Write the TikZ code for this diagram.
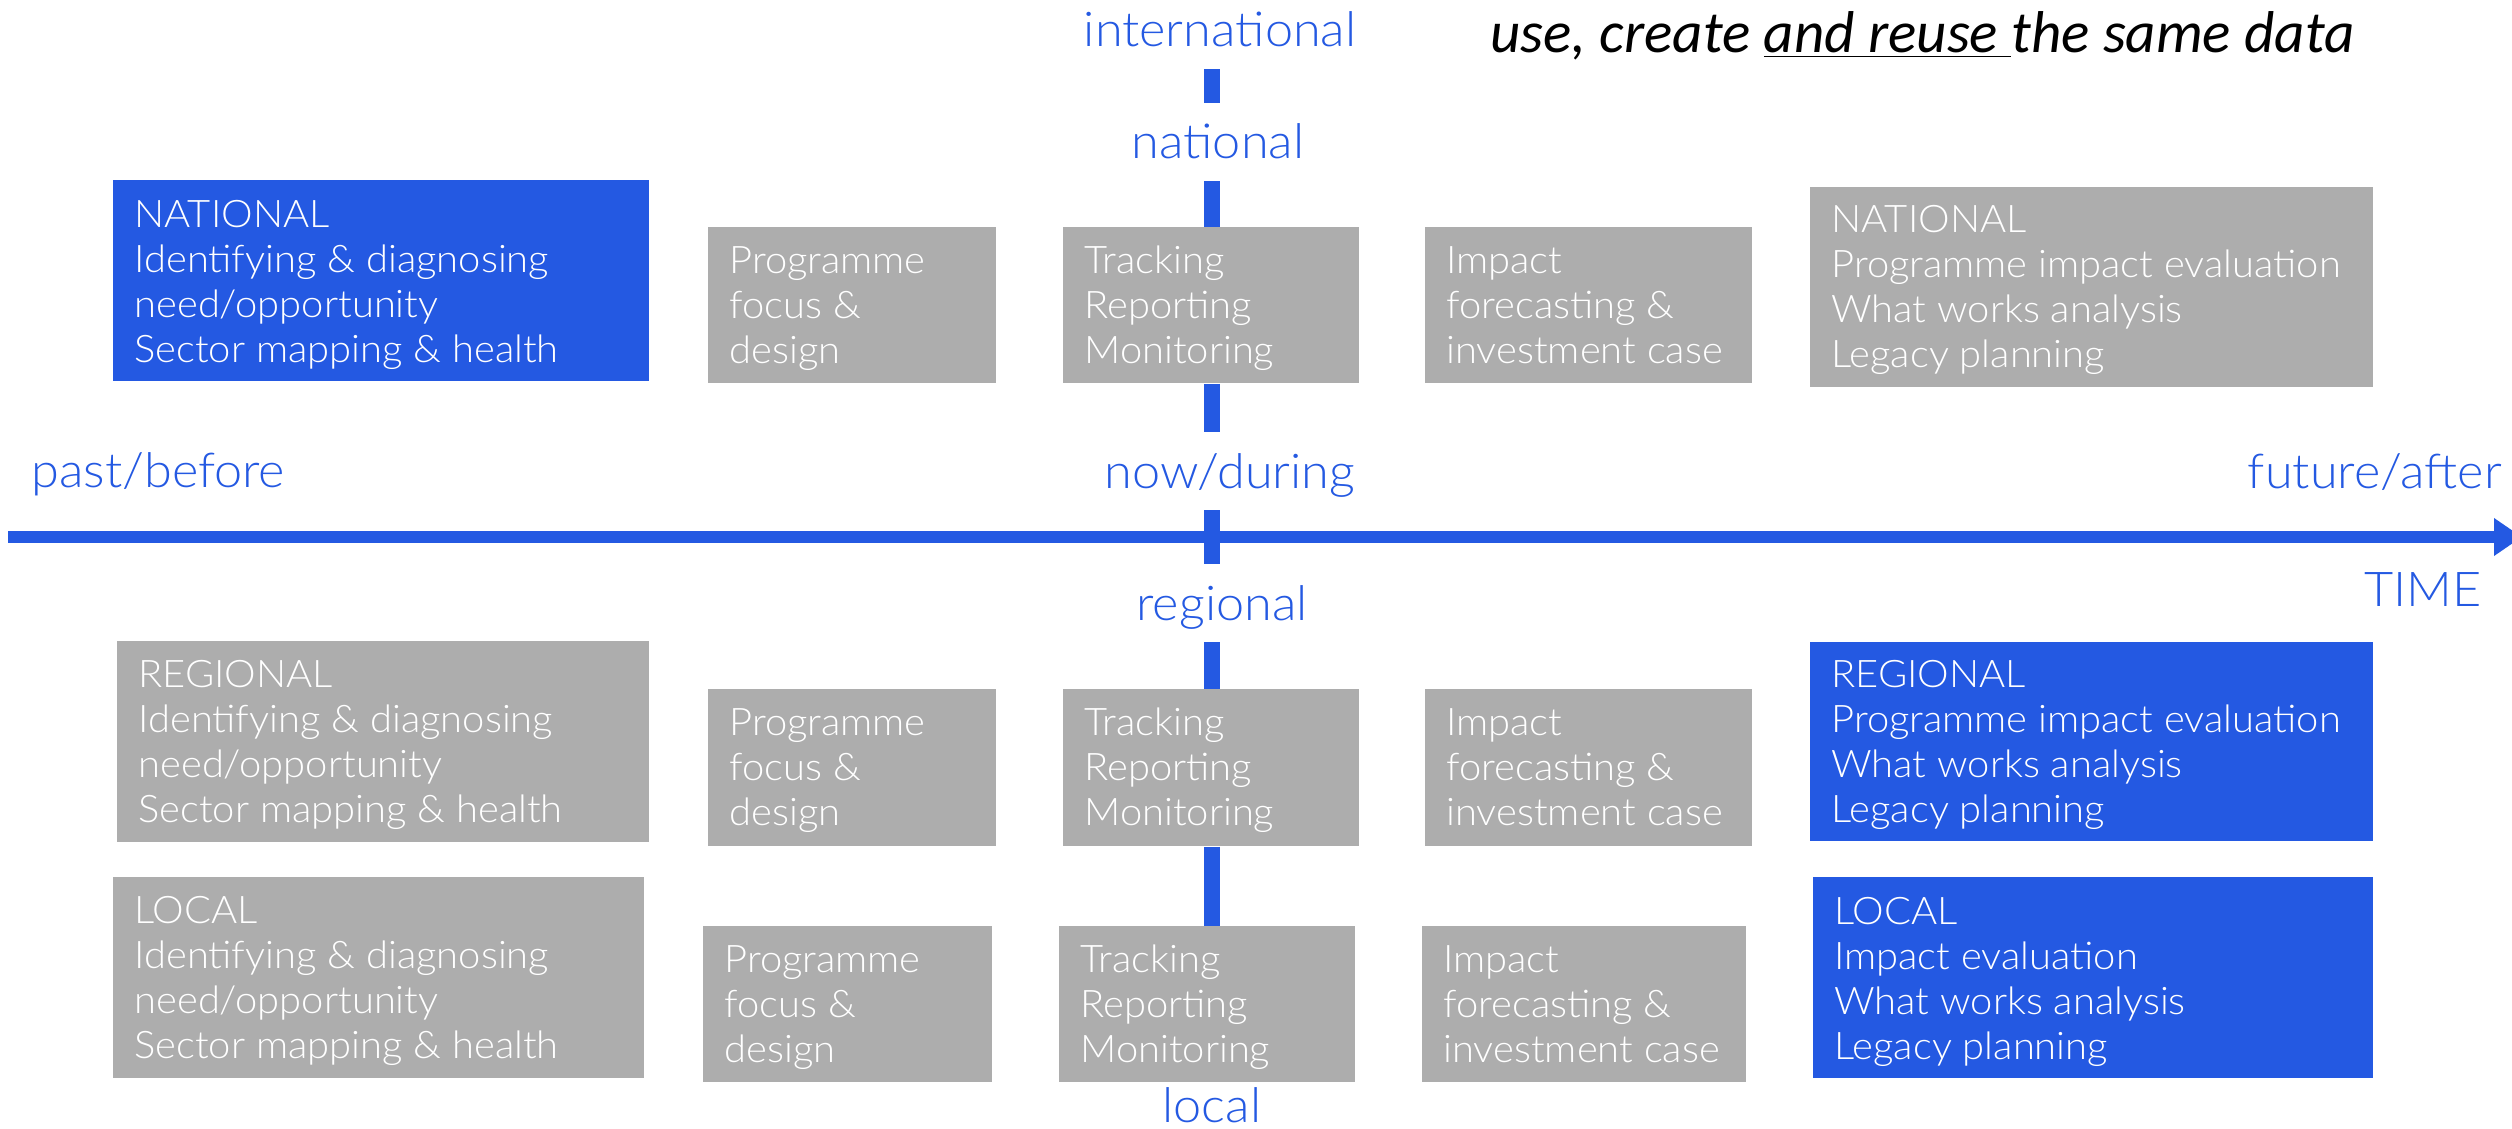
\documentclass[tikz,border=0pt]{standalone}
\usepackage{fontspec}
\IfFontExistsTF{Lato Light}{\setmainfont{Lato Light}[FakeStretch=1.05]}{\setmainfont{Lato}[FakeStretch=1.05]}
\newfontfamily\quotefont{Carlito}
\usetikzlibrary{arrows.meta}
\definecolor{axblue}{HTML}{2459E2}
\definecolor{boxgray}{HTML}{ADADAD}
\newcommand{\boxfont}{\fontsize{19pt}{22.5pt}\selectfont}
\newcommand{\BX}[4]{\hspace*{10.5pt}\parbox[c][\dimexpr #1pt/2\relax][t]{\dimexpr #2pt/2-10.5pt\relax}{\raggedright\rule{0pt}{\dimexpr #3pt/2\relax}#4}}
\begin{document}
\begin{tikzpicture}[x=0.5pt,y=-0.5pt,
  box/.style={fill=#1, text=white, inner sep=0pt, anchor=north west, font=\boxfont},
  lbl/.style={font=\fontsize{24pt}{28pt}\selectfont, text=axblue, inner sep=0pt, text height=18pt, text depth=5pt, anchor=base},
  vbar/.style={draw=axblue, line width=8pt, shorten <=6pt, shorten >=10pt},
  haxis/.style={draw=axblue, line width=6pt, -{Triangle[length=14pt,width=18pt]}},
  quote/.style={font=\quotefont\itshape\fontsize{29.5pt}{33pt}\selectfont, text=black, inner sep=0pt, anchor=base west}
]
\useasboundingbox (0,0) rectangle (2512,1129);
\fill[white] (0,0) rectangle (2512,1129);

% row 1 (national)
\node[box=axblue] (A1) at (113,180) {\BX{201}{536}{47}{NATIONAL\\Identifying \& diagnosing\\need/opportunity\\Sector mapping \& health}};
\node[box=boxgray] (B1) at (708,227) {\BX{156}{288}{46}{Programme\\focus \&\\design}};
\node[box=boxgray] (C1) at (1063,227) {\BX{156}{296}{46}{Tracking\\Reporting\\Monitoring}};
\node[box=boxgray] (D1) at (1425,227) {\BX{156}{327}{46}{Impact\\forecasting \&\\investment case}};
\node[box=boxgray] (E1) at (1810,187) {\BX{200}{563}{45}{NATIONAL\\Programme impact evaluation\\What works analysis\\Legacy planning}};

% row 2 (regional)
\node[box=boxgray] (A2) at (117,641) {\BX{201}{532}{46}{REGIONAL\\Identifying \& diagnosing\\need/opportunity\\Sector mapping \& health}};
\node[box=boxgray] (B2) at (708,689) {\BX{157}{288}{46}{Programme\\focus \&\\design}};
\node[box=boxgray] (C2) at (1063,689) {\BX{157}{296}{46}{Tracking\\Reporting\\Monitoring}};
\node[box=boxgray] (D2) at (1425,689) {\BX{157}{327}{46}{Impact\\forecasting \&\\investment case}};
\node[box=axblue] (E2) at (1810,642) {\BX{199}{563}{45}{REGIONAL\\Programme impact evaluation\\What works analysis\\Legacy planning}};

% row 3 (local)
\node[box=boxgray] (A3) at (113,877) {\BX{201}{531}{46}{LOCAL\\Identifying \& diagnosing\\need/opportunity\\Sector mapping \& health}};
\node[box=boxgray] (B3) at (703,926) {\BX{156}{289}{46}{Programme\\focus \&\\design}};
\node[box=boxgray] (C3) at (1059,926) {\BX{156}{296}{46}{Tracking\\Reporting\\Monitoring}};
\node[box=boxgray] (D3) at (1422,926) {\BX{156}{324}{46}{Impact\\forecasting \&\\investment case}};
\node[box=axblue] (E3) at (1813,877) {\BX{201}{560}{47}{LOCAL\\Impact evaluation\\What works analysis\\Legacy planning}};

% labels
\node[lbl] (intl) at (1220,47) {international};
\node[lbl] (natl) at (1218,159) {national};
\node[lbl] (now) at (1230,488) {now/during};
\node[lbl] (reg) at (1222,620) {regional};
\node[lbl, text depth=0pt] (loc) at (1212,1122) {local};
\node[lbl, anchor=base west] (past) at (31,487) {past/before};
\node[lbl, anchor=base east] (fut) at (2502,488) {future/after};
\node[lbl, anchor=base east] (time) at (2482,606) {TIME};
\node[quote] (quote) at (1490,53) {use, create \underline{and reuse\ }the same data};

% time axis
\coordinate (axL) at (8,537);
\coordinate (axR) at (2522,537);
\draw[haxis] (axL) -- (axR);

% vertical level axis
\coordinate (barx) at (1212,0);
\draw[vbar] (intl.south -| barx) -- (natl.north -| barx);
\draw[vbar, shorten >=0pt] (natl.south -| barx) -- (C1.north -| barx);
\draw[vbar, shorten <=0pt] (C1.south -| barx) -- (now.north -| barx);
\draw[vbar] (now.south -| barx) -- (reg.north -| barx);
\draw[vbar, shorten >=0pt] (reg.south -| barx) -- (C2.north -| barx);
\draw[vbar, shorten <=0pt, shorten >=0pt] (C2.south -| barx) -- (C3.north -| barx);
\end{tikzpicture}
\end{document}
